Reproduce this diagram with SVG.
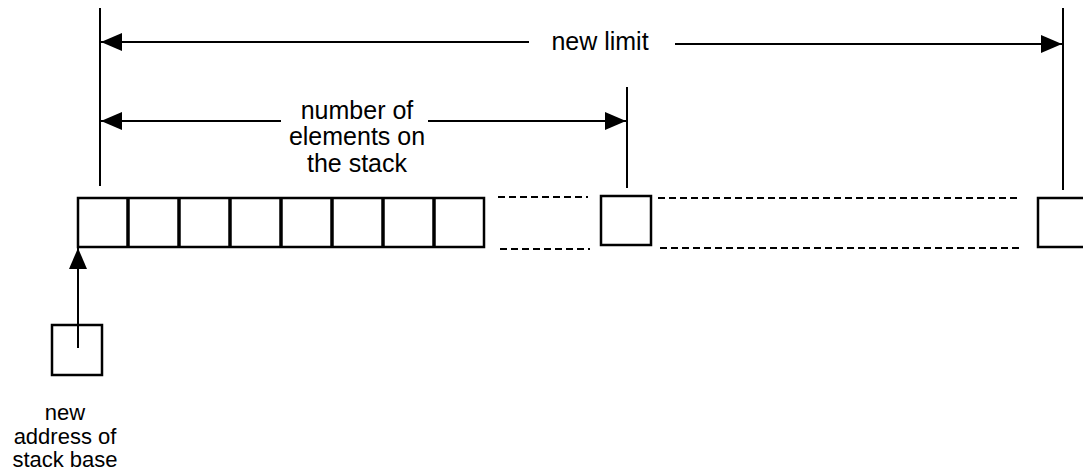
<svg xmlns="http://www.w3.org/2000/svg" width="1083" height="472" viewBox="0 0 1083 472">
<style>
.ln{stroke:#000;stroke-width:2;fill:none}
.box{stroke:#000;stroke-width:2.5;fill:#fff}
.div{stroke:#000;stroke-width:3.5}
.dash{stroke:#000;stroke-width:2;stroke-dasharray:7,4;fill:none}
.t{font-family:"Liberation Sans",Arial,sans-serif;font-size:25px;fill:#000;text-anchor:middle}
.s{font-size:22px}
</style>
<defs>
<marker id="ah" viewBox="0 0 21 18" refX="21" refY="9" markerWidth="21" markerHeight="18" markerUnits="userSpaceOnUse" orient="auto">
<path d="M0,0 L21,9 L0,18 Z" fill="#000"/>
</marker>
</defs>
<g id="connectors">
<line class="ln" x1="100" y1="8" x2="100" y2="186"/>
<line class="ln" x1="627" y1="87" x2="627" y2="188"/>
<line class="ln" x1="1063" y1="8" x2="1063" y2="190"/>
<line class="ln" x1="529" y1="42" x2="101" y2="42" marker-end="url(#ah)"/>
<line class="ln" x1="675" y1="44" x2="1062" y2="44" marker-end="url(#ah)"/>
<line class="ln" x1="281" y1="121" x2="101" y2="121" marker-end="url(#ah)"/>
<line class="ln" x1="428" y1="121" x2="626" y2="121" marker-end="url(#ah)"/>
<line class="ln" x1="78" y1="348" x2="78" y2="248" marker-end="url(#ah)"/>
<line class="dash" x1="498" y1="197" x2="588" y2="197"/>
<line class="dash" x1="500" y1="249" x2="590" y2="249"/>
<line class="dash" x1="658" y1="198" x2="1018" y2="198"/>
<line class="dash" x1="660" y1="248" x2="1019" y2="248"/>
</g>
<g id="stack">
<rect class="box" x="78" y="198" width="406" height="49"/>
<line class="div" x1="128" y1="198" x2="128" y2="247"/>
<line class="div" x1="179" y1="198" x2="179" y2="247"/>
<line class="div" x1="230" y1="198" x2="230" y2="247"/>
<line class="div" x1="281" y1="198" x2="281" y2="247"/>
<line class="div" x1="332" y1="198" x2="332" y2="247"/>
<line class="div" x1="383" y1="198" x2="383" y2="247"/>
<line class="div" x1="434" y1="198" x2="434" y2="247"/>
</g>
<g id="limit-cell"><rect class="box" x="601" y="196" width="50" height="49"/></g>
<g id="end-cell"><rect class="box" x="1038" y="198" width="50" height="49"/></g>
<g id="base-cell"><rect class="box" x="52" y="325" width="50" height="50" style="fill:none"/></g>
<g id="label-limit"><text class="t" x="600" y="50">new limit</text></g>
<g id="label-count">
<text class="t" x="357" y="119">number of</text>
<text class="t" x="357" y="145">elements on</text>
<text class="t" x="357" y="172">the stack</text>
</g>
<g id="label-base">
<text class="t s" x="65" y="420">new</text>
<text class="t s" x="65" y="444">address of</text>
<text class="t s" x="65" y="467">stack base</text>
</g>
</svg>
